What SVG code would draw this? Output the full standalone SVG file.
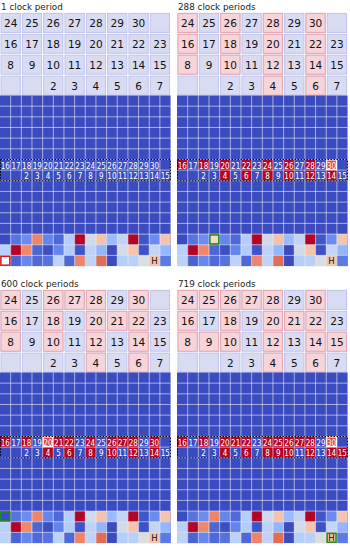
<svg xmlns="http://www.w3.org/2000/svg" xmlns:xlink="http://www.w3.org/1999/xlink" width="350" height="548" viewBox="0 0 350 548">
<style>
.ttl{font-family:"DejaVu Sans",sans-serif;font-size:8.8px;fill:#222}
.tc{fill:#d9dbf3;stroke:#bfc3ec;stroke-width:1}
.pk{fill:#f5d4da;stroke:#e6a7b0;stroke-width:1}
.tt{font-family:"DejaVu Sans",sans-serif;font-size:10.5px;fill:#111;text-anchor:middle}
.lb{font-family:"DejaVu Sans",sans-serif;font-stretch:condensed;font-size:8px;fill:#fff;text-anchor:middle}
.rd{fill:#b40426}
.hl{fill:#e8483a;stroke:#fff;stroke-width:1.2}
.gl{stroke:#fff;stroke-opacity:0.55;stroke-width:1;fill:none}
.dot{fill:none;stroke:#000;stroke-width:1;stroke-dasharray:1.5 1.5}
.mr{fill:#fff;stroke:#e01515;stroke-width:1.5}
.mg{stroke:#1e8c1e;stroke-width:1.5}
.ht{font-family:"DejaVu Sans",sans-serif;font-size:8.5px;fill:#111;text-anchor:middle}
</style>
<defs>
<g id="topCells">
<rect class="tc" x="1" y="13.4" width="19.3" height="19"/><rect class="tc" x="22.32" y="13.4" width="19.3" height="19"/><rect class="tc" x="43.64" y="13.4" width="19.3" height="19"/><rect class="tc" x="64.96" y="13.4" width="19.3" height="19"/><rect class="tc" x="86.28" y="13.4" width="19.3" height="19"/><rect class="tc" x="107.6" y="13.4" width="19.3" height="19"/><rect class="tc" x="128.92" y="13.4" width="19.3" height="19"/><rect class="tc" x="150.24" y="13.4" width="19.3" height="19"/>
<rect class="tc" x="1" y="34.3" width="19.3" height="19"/><rect class="tc" x="22.32" y="34.3" width="19.3" height="19"/><rect class="tc" x="43.64" y="34.3" width="19.3" height="19"/><rect class="tc" x="64.96" y="34.3" width="19.3" height="19"/><rect class="tc" x="86.28" y="34.3" width="19.3" height="19"/><rect class="tc" x="107.6" y="34.3" width="19.3" height="19"/><rect class="tc" x="128.92" y="34.3" width="19.3" height="19"/><rect class="tc" x="150.24" y="34.3" width="19.3" height="19"/>
<rect class="tc" x="1" y="55.2" width="19.3" height="19"/><rect class="tc" x="22.32" y="55.2" width="19.3" height="19"/><rect class="tc" x="43.64" y="55.2" width="19.3" height="19"/><rect class="tc" x="64.96" y="55.2" width="19.3" height="19"/><rect class="tc" x="86.28" y="55.2" width="19.3" height="19"/><rect class="tc" x="107.6" y="55.2" width="19.3" height="19"/><rect class="tc" x="128.92" y="55.2" width="19.3" height="19"/><rect class="tc" x="150.24" y="55.2" width="19.3" height="19"/>
<rect class="tc" x="1" y="76.1" width="19.3" height="19"/><rect class="tc" x="22.32" y="76.1" width="19.3" height="19"/><rect class="tc" x="43.64" y="76.1" width="19.3" height="19"/><rect class="tc" x="64.96" y="76.1" width="19.3" height="19"/><rect class="tc" x="86.28" y="76.1" width="19.3" height="19"/><rect class="tc" x="107.6" y="76.1" width="19.3" height="19"/><rect class="tc" x="128.92" y="76.1" width="19.3" height="19"/><rect class="tc" x="150.24" y="76.1" width="19.3" height="19"/>
</g>
<g id="topText">
<text class="tt" x="10.66" y="26.9">24</text><text class="tt" x="31.98" y="26.9">25</text><text class="tt" x="53.3" y="26.9">26</text><text class="tt" x="74.62" y="26.9">27</text><text class="tt" x="95.94" y="26.9">28</text><text class="tt" x="117.26" y="26.9">29</text><text class="tt" x="138.58" y="26.9">30</text>
<text class="tt" x="10.66" y="47.8">16</text><text class="tt" x="31.98" y="47.8">17</text><text class="tt" x="53.3" y="47.8">18</text><text class="tt" x="74.62" y="47.8">19</text><text class="tt" x="95.94" y="47.8">20</text><text class="tt" x="117.26" y="47.8">21</text><text class="tt" x="138.58" y="47.8">22</text><text class="tt" x="159.9" y="47.8">23</text>
<text class="tt" x="10.66" y="68.7">8</text><text class="tt" x="31.98" y="68.7">9</text><text class="tt" x="53.3" y="68.7">10</text><text class="tt" x="74.62" y="68.7">11</text><text class="tt" x="95.94" y="68.7">12</text><text class="tt" x="117.26" y="68.7">13</text><text class="tt" x="138.58" y="68.7">14</text><text class="tt" x="159.9" y="68.7">15</text>
<text class="tt" x="53.3" y="89.6">2</text><text class="tt" x="74.62" y="89.6">3</text><text class="tt" x="95.94" y="89.6">4</text><text class="tt" x="117.26" y="89.6">5</text><text class="tt" x="138.58" y="89.6">6</text><text class="tt" x="159.9" y="89.6">7</text>
</g>
<g id="lowBg">
<rect x="0" y="95.5" width="170.56" height="170.56" fill="#3b4cc0"/>
<rect x="10.66" y="234.08" width="10.66" height="10.66" fill="#5673e0"/><rect x="21.32" y="234.08" width="10.66" height="10.66" fill="#6b8df0"/><rect x="31.98" y="234.08" width="10.66" height="10.66" fill="#ee8468"/><rect x="42.64" y="234.08" width="10.66" height="10.66" fill="#6485ec"/><rect x="53.3" y="234.08" width="10.66" height="10.66" fill="#4f69d9"/><rect x="63.96" y="234.08" width="10.66" height="10.66" fill="#b5cdfa"/><rect x="74.62" y="234.08" width="10.66" height="10.66" fill="#b40426"/><rect x="85.28" y="234.08" width="10.66" height="10.66" fill="#cfdaea"/><rect x="95.94" y="234.08" width="10.66" height="10.66" fill="#f5c2aa"/><rect x="106.6" y="234.08" width="10.66" height="10.66" fill="#9abbff"/><rect x="117.26" y="234.08" width="10.66" height="10.66" fill="#c4d5f3"/><rect x="127.92" y="234.08" width="10.66" height="10.66" fill="#b40426"/><rect x="138.58" y="234.08" width="10.66" height="10.66" fill="#4055c8"/><rect x="149.24" y="234.08" width="10.66" height="10.66" fill="#6a8bef"/><rect x="159.9" y="234.08" width="10.66" height="10.66" fill="#f5c4ac"/>
<rect x="0" y="244.74" width="10.66" height="10.66" fill="#b9d0f9"/><rect x="10.66" y="244.74" width="10.66" height="10.66" fill="#b40426"/><rect x="21.32" y="244.74" width="10.66" height="10.66" fill="#ef886b"/><rect x="31.98" y="244.74" width="10.66" height="10.66" fill="#4c66d6"/><rect x="42.64" y="244.74" width="10.66" height="10.66" fill="#3d50c3"/><rect x="53.3" y="244.74" width="10.66" height="10.66" fill="#6384eb"/><rect x="63.96" y="244.74" width="10.66" height="10.66" fill="#b2ccfb"/><rect x="74.62" y="244.74" width="10.66" height="10.66" fill="#3f53c6"/><rect x="85.28" y="244.74" width="10.66" height="10.66" fill="#bed2f6"/><rect x="95.94" y="244.74" width="10.66" height="10.66" fill="#93b5fe"/><rect x="117.26" y="244.74" width="10.66" height="10.66" fill="#d4dbe6"/><rect x="127.92" y="244.74" width="10.66" height="10.66" fill="#f5c4ac"/><rect x="138.58" y="244.74" width="10.66" height="10.66" fill="#3e51c5"/><rect x="149.24" y="244.74" width="10.66" height="10.66" fill="#c5d6f2"/><rect x="159.9" y="244.74" width="10.66" height="10.66" fill="#96b7ff"/>
<rect x="0" y="255.4" width="10.66" height="10.66" fill="#bcd2f7"/><rect x="10.66" y="255.4" width="10.66" height="10.66" fill="#4a63d3"/><rect x="21.32" y="255.4" width="10.66" height="10.66" fill="#6687ed"/><rect x="31.98" y="255.4" width="10.66" height="10.66" fill="#4f69d9"/><rect x="42.64" y="255.4" width="10.66" height="10.66" fill="#5572df"/><rect x="53.3" y="255.4" width="10.66" height="10.66" fill="#bcd2f7"/><rect x="63.96" y="255.4" width="10.66" height="10.66" fill="#4e68d8"/><rect x="74.62" y="255.4" width="10.66" height="10.66" fill="#ee8468"/><rect x="85.28" y="255.4" width="10.66" height="10.66" fill="#bfd3f6"/><rect x="95.94" y="255.4" width="10.66" height="10.66" fill="#e36c55"/><rect x="117.26" y="255.4" width="10.66" height="10.66" fill="#b6cefa"/><rect x="127.92" y="255.4" width="10.66" height="10.66" fill="#b9d0f9"/><rect x="138.58" y="255.4" width="10.66" height="10.66" fill="#dcdddd"/><rect x="149.24" y="255.4" width="10.66" height="10.66" fill="#f4c5ad"/><rect x="159.9" y="255.4" width="10.66" height="10.66" fill="#5b7ae5"/>
</g>
<path id="lines" class="gl" d="M10.66 95.5V266.06M21.32 95.5V266.06M31.98 95.5V266.06M42.64 95.5V266.06M53.3 95.5V266.06M63.96 95.5V266.06M74.62 95.5V266.06M85.28 95.5V266.06M95.94 95.5V266.06M106.6 95.5V266.06M117.26 95.5V266.06M127.92 95.5V266.06M138.58 95.5V266.06M149.24 95.5V266.06M159.9 95.5V266.06M0 106.16H170.56M0 116.82H170.56M0 127.48H170.56M0 138.14H170.56M0 148.8H170.56M0 159.46H170.56M0 170.12H170.56M0 180.78H170.56M0 191.44H170.56M0 202.1H170.56M0 212.76H170.56M0 223.42H170.56M0 234.08H170.56M0 244.74H170.56M0 255.4H170.56"/>
<g id="lowLab">
<text class="lb" x="5.33" y="168.5">16</text><text class="lb" x="15.99" y="168.5">17</text><text class="lb" x="26.65" y="168.5">18</text><text class="lb" x="37.31" y="168.5">19</text><text class="lb" x="47.97" y="168.5">20</text><text class="lb" x="58.63" y="168.5">21</text><text class="lb" x="69.29" y="168.5">22</text><text class="lb" x="79.95" y="168.5">23</text><text class="lb" x="90.61" y="168.5">24</text><text class="lb" x="101.27" y="168.5">25</text><text class="lb" x="111.93" y="168.5">26</text><text class="lb" x="122.59" y="168.5">27</text><text class="lb" x="133.25" y="168.5">28</text><text class="lb" x="143.91" y="168.5">29</text><text class="lb" x="154.57" y="168.5">30</text>
<text class="lb" x="26.65" y="179.1">2</text><text class="lb" x="37.31" y="179.1">3</text><text class="lb" x="47.97" y="179.1">4</text><text class="lb" x="58.63" y="179.1">5</text><text class="lb" x="69.29" y="179.1">6</text><text class="lb" x="79.95" y="179.1">7</text><text class="lb" x="90.61" y="179.1">8</text><text class="lb" x="101.27" y="179.1">9</text><text class="lb" x="111.93" y="179.1">10</text><text class="lb" x="122.59" y="179.1">11</text><text class="lb" x="133.25" y="179.1">12</text><text class="lb" x="143.91" y="179.1">13</text><text class="lb" x="154.57" y="179.1">14</text><text class="lb" x="165.23" y="179.1">15</text>
</g>
<g id="evenTop">
<rect class="pk" x="86.28" y="76.1" width="19.3" height="19"/><rect class="pk" x="128.92" y="76.1" width="19.3" height="19"/>
<rect class="pk" x="1" y="55.2" width="19.3" height="19"/><rect class="pk" x="43.64" y="55.2" width="19.3" height="19"/><rect class="pk" x="86.28" y="55.2" width="19.3" height="19"/><rect class="pk" x="128.92" y="55.2" width="19.3" height="19"/>
<rect class="pk" x="1" y="34.3" width="19.3" height="19"/><rect class="pk" x="43.64" y="34.3" width="19.3" height="19"/><rect class="pk" x="86.28" y="34.3" width="19.3" height="19"/><rect class="pk" x="128.92" y="34.3" width="19.3" height="19"/>
<rect class="pk" x="1" y="13.4" width="19.3" height="19"/><rect class="pk" x="43.64" y="13.4" width="19.3" height="19"/><rect class="pk" x="86.28" y="13.4" width="19.3" height="19"/><rect class="pk" x="128.92" y="13.4" width="19.3" height="19"/>
</g>
<g id="evenLow">
<rect class="rd" x="0" y="159.46" width="10.66" height="10.66"/><rect class="rd" x="21.32" y="159.46" width="10.66" height="10.66"/><rect class="rd" x="42.64" y="159.46" width="10.66" height="10.66"/><rect class="rd" x="63.96" y="159.46" width="10.66" height="10.66"/><rect class="rd" x="85.28" y="159.46" width="10.66" height="10.66"/><rect class="rd" x="106.6" y="159.46" width="10.66" height="10.66"/><rect class="rd" x="127.92" y="159.46" width="10.66" height="10.66"/><rect class="rd" x="149.24" y="159.46" width="10.66" height="10.66"/>
<rect class="rd" x="42.64" y="170.12" width="10.66" height="10.66"/><rect class="rd" x="63.96" y="170.12" width="10.66" height="10.66"/><rect class="rd" x="85.28" y="170.12" width="10.66" height="10.66"/><rect class="rd" x="106.6" y="170.12" width="10.66" height="10.66"/><rect class="rd" x="127.92" y="170.12" width="10.66" height="10.66"/><rect class="rd" x="149.24" y="170.12" width="10.66" height="10.66"/>
</g>
<rect id="dotBox" class="dot" x="0.5" y="159.46" width="169.8" height="21.32"/>
</defs>

<g id="panel1">
<text class="ttl" x="1" y="9.5">1 clock period</text>
<use xlink:href="#topCells"/>
<use xlink:href="#topText"/>
<use xlink:href="#lowBg"/>
<use xlink:href="#lines"/>
<use xlink:href="#lowLab"/>
<rect class="mr" x="0.9" y="256.3" width="8.9" height="8.9"/>
<text class="ht" x="154.57" y="264.2">H</text>
<use xlink:href="#dotBox"/>
</g>

<g id="panel2" transform="translate(177,0)">
<text class="ttl" x="1" y="9.5">288 clock periods</text>
<use xlink:href="#topCells"/>
<use xlink:href="#evenTop"/>
<use xlink:href="#topText"/>
<use xlink:href="#lowBg"/>
<use xlink:href="#evenLow"/>
<rect class="hl" x="149.74" y="159.96" width="9.66" height="9.66"/>
<use xlink:href="#lines"/>
<use xlink:href="#lowLab"/>
<rect class="mg" fill="#f7d8c8" x="32.88" y="234.98" width="8.9" height="8.9"/>
<text class="ht" x="154.57" y="264.2">H</text>
<use xlink:href="#dotBox"/>
</g>

<g id="panel3" transform="translate(0,277)">
<text class="ttl" x="1" y="9.5">600 clock periods</text>
<use xlink:href="#topCells"/>
<use xlink:href="#evenTop"/>
<rect class="pk" x="64.96" y="13.4" width="19.3" height="19"/><rect class="pk" x="107.6" y="34.3" width="19.3" height="19"/>
<use xlink:href="#topText"/>
<use xlink:href="#lowBg"/>
<use xlink:href="#evenLow"/>
<rect class="rd" x="53.3" y="159.46" width="10.66" height="10.66"/><rect class="rd" x="117.26" y="159.46" width="10.66" height="10.66"/>
<rect class="hl" x="43.14" y="159.96" width="9.66" height="9.66"/>
<use xlink:href="#lines"/>
<use xlink:href="#lowLab"/>
<rect class="mg" fill="#3b4cc0" x="0.9" y="234.98" width="8.9" height="8.9"/>
<text class="ht" x="154.57" y="264.2">H</text>
<use xlink:href="#dotBox"/>
</g>

<g id="panel4" transform="translate(177,277)">
<text class="ttl" x="1" y="9.5">719 clock periods</text>
<use xlink:href="#topCells"/>
<use xlink:href="#evenTop"/>
<rect class="pk" x="22.32" y="13.4" width="19.3" height="19"/><rect class="pk" x="64.96" y="13.4" width="19.3" height="19"/><rect class="pk" x="107.6" y="34.3" width="19.3" height="19"/><rect class="pk" x="22.32" y="55.2" width="19.3" height="19"/><rect class="pk" x="150.24" y="55.2" width="19.3" height="19"/>
<use xlink:href="#topText"/>
<use xlink:href="#lowBg"/>
<use xlink:href="#evenLow"/>
<rect class="rd" x="53.3" y="159.46" width="10.66" height="10.66"/><rect class="rd" x="95.94" y="159.46" width="10.66" height="10.66"/><rect class="rd" x="117.26" y="159.46" width="10.66" height="10.66"/><rect class="rd" x="95.94" y="170.12" width="10.66" height="10.66"/><rect class="rd" x="159.9" y="170.12" width="10.66" height="10.66"/>
<rect class="hl" x="149.74" y="159.96" width="9.66" height="9.66"/>
<use xlink:href="#lines"/>
<use xlink:href="#lowLab"/>
<rect class="mg" fill="#f4c5ad" x="150.14" y="256.3" width="8.9" height="8.9"/>
<text class="ht" x="154.57" y="264.2">H</text>
<use xlink:href="#dotBox"/>
</g>
</svg>
